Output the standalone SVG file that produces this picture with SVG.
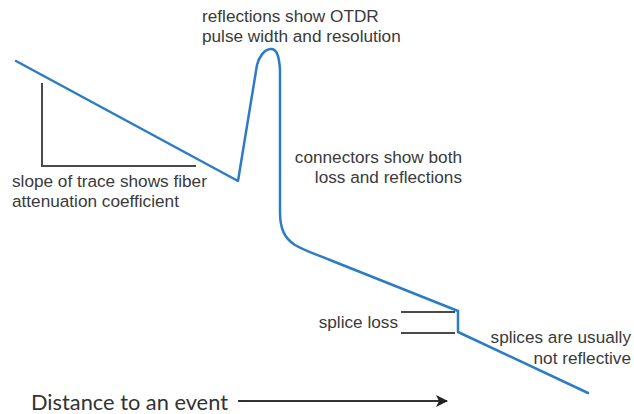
<svg xmlns="http://www.w3.org/2000/svg" width="634" height="414" viewBox="0 0 634 414">
<defs>
<style>
.t{font-family:"Liberation Sans",Arial,sans-serif;font-size:17.2px;fill:#3a3a3a}
.ax{font-family:Lato,"Open Sans",sans-serif;font-size:21.8px;fill:#333}
.trace{fill:none;stroke:#2b7cc6;stroke-width:2.5;stroke-linejoin:round;stroke-linecap:round}
.gray{fill:none;stroke:#4a4a4a;stroke-width:2}
</style>
<marker id="ah" viewBox="0 0 12 12" refX="11" refY="6" markerWidth="12" markerHeight="12" markerUnits="userSpaceOnUse" orient="auto">
<path d="M0,0 L12,6 L0,12 L3,6 Z" fill="#222"/>
</marker>
</defs>
<rect width="634" height="414" fill="#fff"/>
<g id="connectors">
<path class="trace" d="M16,61 L238,181 L257,65 C259,57 264,50 270,49 C276,48 279,54 280,70 L280,212 C280,228 284,238 295,245 C305,251 318,255 330,260 L458,311 L458,332 L588,393"/>
<path class="gray" d="M42,83 L42,166 L196,166"/>
<line class="gray" x1="401" y1="312" x2="455" y2="312"/>
<line class="gray" x1="401" y1="333" x2="455" y2="333"/>
<line x1="238" y1="401" x2="447" y2="401" stroke="#333" stroke-width="2" marker-end="url(#ah)"/>
</g>
<g id="label-slope">
<text class="t" x="12" y="187">slope of trace shows fiber</text>
<text class="t" x="12" y="207">attenuation coefficient</text>
</g>
<g id="label-reflections">
<text class="t" x="202" y="22">reflections show OTDR</text>
<text class="t" x="202" y="42">pulse width and resolution</text>
</g>
<g id="label-connectors">
<text class="t" x="462" y="163" text-anchor="end">connectors show both</text>
<text class="t" x="462" y="183" text-anchor="end">loss and reflections</text>
</g>
<g id="label-splice-loss">
<text class="t" x="398" y="328" text-anchor="end">splice loss</text>
</g>
<g id="label-splices">
<text class="t" x="631" y="343" text-anchor="end">splices are usually</text>
<text class="t" x="631" y="364" text-anchor="end">not reflective</text>
</g>
<g id="label-distance">
<text class="ax" x="31" y="410">Distance to an event</text>
</g>
</svg>
